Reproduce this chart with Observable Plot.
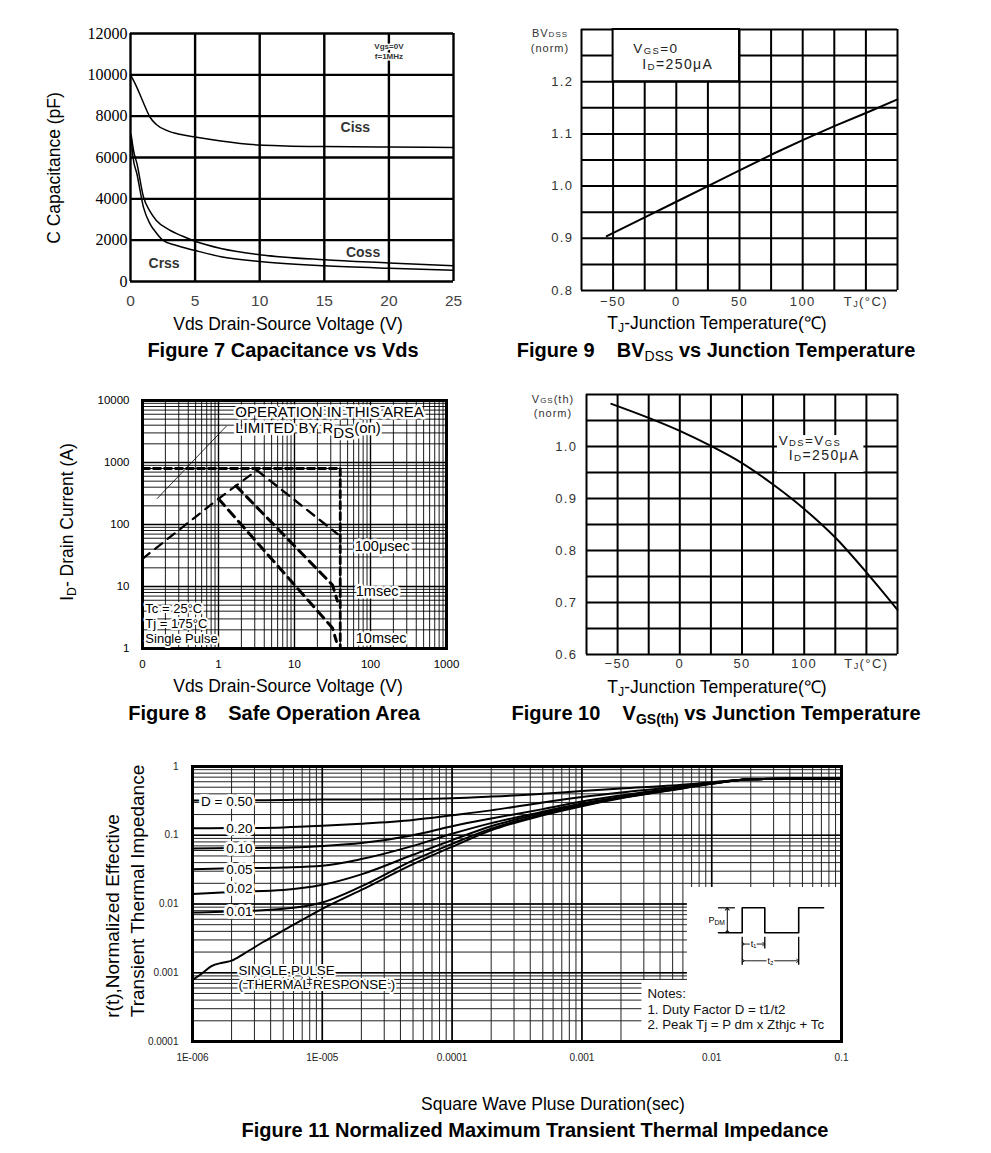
<!DOCTYPE html>
<html><head><meta charset="utf-8">
<script src="https://cdn.jsdelivr.net/npm/d3@7"></script>
<script src="https://cdn.jsdelivr.net/npm/@observablehq/plot@0.6"></script>
<style>
body{margin:0;background:#fff;}
#page{position:relative;width:991px;height:1153px;overflow:hidden;font-family:"Liberation Sans",Arial,sans-serif;color:#000;background:#fff;}
.abs{position:absolute;white-space:pre;line-height:1;}
.cap{font-weight:bold;font-size:20px;}
.ttl{font-size:17.5px;}
.ttl11{font-size:19px;}
.sm{font-size:11px;color:#333;letter-spacing:1px;}
sub{font-size:70%;vertical-align:-0.25em;line-height:0;}
#page svg{position:absolute;overflow:visible;}
</style></head><body><div id="page"></div>
<script>
// ---------- Figure 7: capacitance vs Vds ----------
const capVGrid = [0, 5, 10, 15, 20, 25];
const capCGrid = [0, 2000, 4000, 6000, 8000, 10000, 12000];
const cissV = [0, 0.3, 0.7, 1.0, 1.5, 2.0, 2.8, 4, 5, 7, 10, 12, 15, 20, 25];
const cissC = [10000, 9650, 9100, 8650, 7960, 7600, 7310, 7100, 6990, 6800, 6600, 6560, 6530, 6510, 6480];
const cossV = [0.05, 0.25, 0.5, 1, 1.5, 2, 3, 4, 5, 7, 10, 15, 20, 25];
const cossC = [7100, 6300, 5700, 4100, 3400, 2950, 2500, 2200, 1950, 1600, 1300, 1050, 900, 760];
const crssV = [0.05, 0.2, 0.5, 1, 1.5, 2, 2.5, 3.5, 5, 7, 10, 15, 20, 25];
const crssC = [7000, 6000, 5200, 3600, 2800, 2350, 2000, 1750, 1500, 1200, 970, 760, 640, 550];

// ---------- Figure 9 / 10: normalised vs junction temperature ----------
const tempGrid = [-75, -50, -25, 0, 25, 50, 75, 100, 125, 150, 175];
const tempTicks = [-50, 0, 50, 100, 150];
const bvGrid = [0.8, 0.85, 0.9, 0.95, 1.0, 1.05, 1.1, 1.15, 1.2, 1.25, 1.3];
const bvTicks = [0.8, 0.9, 1.0, 1.1, 1.2];
const bvTemp = [-55, -25, 0, 25, 50, 75, 100, 125, 150, 175];
const bvNorm = [0.904, 0.94, 0.97, 1.0, 1.03, 1.06, 1.088, 1.115, 1.14, 1.166];
const vthGrid = [0.6, 0.65, 0.7, 0.75, 0.8, 0.85, 0.9, 0.95, 1.0, 1.05, 1.1];
const vthTicks = [0.6, 0.7, 0.8, 0.9, 1.0];
const vthTemp = [-55, -25, 0, 25, 50, 75, 100, 125, 150, 175];
const vthNorm = [1.082, 1.055, 1.030, 1.001, 0.968, 0.927, 0.880, 0.825, 0.758, 0.686];

// ---------- Figure 8: safe operating area ----------
const soaXTicks = [0.1, 1, 10, 100, 1000];
const soaXLabels = ["0", "1", "10", "100", "1000"];
const soaYTicks = [1, 10, 100, 1000, 10000];
const soaYLabels = ["1", "10", "100", "1000", "10000"];
const soaDcV = [0.1, 40, 40];
const soaDcI = [800, 800, 1];
const soaRdsV = [0.1, 1, 3.2];
const soaRdsI = [28, 260, 750];
const soa100usV = [3.2, 37];
const soa100usI = [750, 70];
const soa1msV = [1.7, 31.6, 36.7];
const soa1msI = [420, 10.6, 5.8];
const soa10msV = [1.0, 31.6, 35.6];
const soa10msI = [260, 2.15, 1.3];

// ---------- Figure 11: transient thermal impedance ----------
const thXTicks = [1e-6, 1e-5, 1e-4, 1e-3, 1e-2, 1e-1];
const thXLabels = ["1E-006", "1E-005", "0.0001", "0.001", "0.01", "0.1"];
const thYTicks = [1e-4, 1e-3, 1e-2, 1e-1, 1];
const thYLabels = ["0.0001", "0.001", "0.01", "0.1", "1"];
const tPulse = [1e-6, 2e-6, 5e-6, 1e-5, 2e-5, 5e-5, 1e-4, 2e-4, 5e-4, 1e-3, 2e-3, 5e-3, 1e-2, 2e-2, 5e-2, 1e-1];
const zD50 = [0.32, 0.32, 0.325, 0.33, 0.33, 0.335, 0.345, 0.365, 0.40, 0.44, 0.48, 0.53, 0.59, 0.65, 0.67, 0.67];
const zD20 = [0.126, 0.127, 0.13, 0.137, 0.147, 0.167, 0.195, 0.23, 0.30, 0.36, 0.42, 0.50, 0.58, 0.65, 0.67, 0.67];
const zD10 = [0.064, 0.065, 0.066, 0.07, 0.077, 0.10, 0.135, 0.175, 0.24, 0.31, 0.38, 0.48, 0.57, 0.65, 0.67, 0.67];
const zD05 = [0.032, 0.033, 0.034, 0.036, 0.045, 0.07, 0.105, 0.15, 0.22, 0.29, 0.36, 0.47, 0.57, 0.65, 0.67, 0.67];
const zD02 = [0.014, 0.015, 0.016, 0.019, 0.027, 0.052, 0.085, 0.135, 0.21, 0.28, 0.355, 0.465, 0.565, 0.65, 0.67, 0.67];
const zD01 = [0.0075, 0.0078, 0.0085, 0.0105, 0.018, 0.043, 0.075, 0.125, 0.20, 0.27, 0.35, 0.46, 0.565, 0.65, 0.67, 0.67];
const tSingle = [1e-6, 1.2e-6, 1.4e-6, 1.7e-6, 2e-6, 2.5e-6, 3.5e-6, 5e-6, 1e-5, 2e-5, 5e-5, 1e-4, 2e-4, 5e-4, 1e-3, 2e-3, 5e-3, 1e-2, 2e-2, 5e-2, 1e-1];
const zSingle = [0.00078, 0.001, 0.00125, 0.0014, 0.0015, 0.0019, 0.0028, 0.0041, 0.0085, 0.016, 0.038, 0.068, 0.118, 0.195, 0.265, 0.345, 0.455, 0.56, 0.65, 0.67, 0.67];
const dutyLabels = ["D = 0.50", "0.20", "0.10", "0.05", "0.02", "0.01"];
const dutyLabelZ = [0.31, 0.125, 0.064, 0.032, 0.0168, 0.0078];
// inset waveform (schematic units)
const pulseT = [-1.05, 0, 0, 1, 1, 2.5, 2.5, 3.6];
const pulseP = [0, 0, 1, 1, 0, 0, 1, 1];

const logMult = [1, 2, 3, 4, 5, 6, 7, 8, 9];

// ---------- helpers ----------
const page = document.getElementById("page");
const rows = (xs, ys) => xs.map((x, i) => ({x, y: ys[i]}));
const logGrid = (decades, last) => decades.flatMap(d => logMult.map(m => m * d)).concat([last]);
function put(node, left, top) {
  node.style.left = left + "px"; node.style.top = top + "px";
  page.appendChild(node);
}
function html(content, cx, cy, cls, rotate) {
  const d = document.createElement("div");
  d.className = "abs " + cls; d.innerHTML = content;
  d.style.left = cx + "px"; d.style.top = cy + "px";
  d.style.transform = "translate(-50%,-50%)" + (rotate ? " rotate(-90deg)" : "");
  page.appendChild(d);
}
function frameOf(box, f) {
  return {width: box.w, height: box.h, marginLeft: f.L - box.x, marginRight: box.x + box.w - f.R,
          marginTop: f.T - box.y, marginBottom: box.y + box.h - f.B};
}
function applySubs(svg, scale, shift) {
  svg.querySelectorAll("text, tspan").forEach(el => {
    if (el.childElementCount) return;
    const s = el.textContent;
    if (!s.includes("_{")) return;
    el.textContent = "";
    const re = /_\{([^}]*)\}/g; let last = 0, m;
    const add = (txt, sub) => {
      if (!txt) return;
      const t = document.createElementNS("http://www.w3.org/2000/svg", "tspan");
      t.textContent = txt;
      if (sub) { t.setAttribute("font-size", (scale * 100) + "%"); t.setAttribute("baseline-shift", String(-shift)); }
      el.appendChild(t);
    };
    while ((m = re.exec(s))) { add(s.slice(last, m.index)); add(m[1], true); last = re.lastIndex; }
    add(s.slice(last));
  });
}
const halo = {stroke: "white", strokeWidth: 5, paintOrder: "stroke", fill: "black"};

// ---------- Figure 7 ----------
const p7 = Plot.plot({
  ...frameOf({x: 40, y: 15, w: 430, h: 300}, {L: 130, R: 453, T: 33, B: 281}),
  style: {fontFamily: "Liberation Sans", background: "transparent"},
  x: {domain: [0, 25], axis: null}, y: {domain: [0, 12000], axis: null},
  marks: [
    Plot.ruleX(capVGrid, {strokeWidth: 2.4}),
    Plot.ruleY(capCGrid, {strokeWidth: 2.4}),
    Plot.line(rows(cissV, cissC), {x: "x", y: "y", strokeWidth: 1.5, curve: "monotone-x"}),
    Plot.line(rows(cossV, cossC), {x: "x", y: "y", strokeWidth: 1.5, curve: "monotone-x"}),
    Plot.line(rows(crssV, crssC), {x: "x", y: "y", strokeWidth: 1.5, curve: "monotone-x"}),
    Plot.text(capCGrid, {x: 0, y: d => d, text: d => String(d), textAnchor: "end", dx: -3, fontFamily: "Liberation Serif", fontSize: 16}),
    Plot.axisX({ticks: capVGrid, tickSize: 0, tickPadding: 13, fontSize: 15.5, color: "#444", label: null}),
    Plot.text(["Ciss"], {x: 17.4, y: 7450, fontWeight: "bold", fontSize: 14, fill: "#333"}),
    Plot.text(["Coss"], {x: 18.0, y: 1380, fontWeight: "bold", fontSize: 14, fill: "#333"}),
    Plot.text(["Crss"], {x: 2.6, y: 870, fontWeight: "bold", fontSize: 14, fill: "#333"}),
    Plot.text(["Vgs=0V\nf=1MHz"], {x: 20, y: 11150, fontWeight: "bold", fontSize: 8, lineHeight: 1.15, fill: "#333", stroke: "white", strokeWidth: 3, paintOrder: "stroke"})
  ]
});
put(p7, 40, 15);
html("Vds Drain-Source Voltage (V)", 288, 325, "ttl");
html("C Capacitance (pF)", 55, 168, "ttl", true);
html("Figure 7 Capacitance vs Vds", 283, 350, "cap");

// ---------- Figure 9 ----------
const p9 = Plot.plot({
  ...frameOf({x: 500, y: 15, w: 420, h: 300}, {L: 581, R: 897, T: 29, B: 290}),
  style: {fontFamily: "Liberation Sans", background: "transparent", letterSpacing: "1.4px"},
  x: {domain: [-75, 175]}, y: {domain: [0.8, 1.3]},
  marks: [
    Plot.ruleX(tempGrid, {strokeWidth: 2}),
    Plot.ruleY(bvGrid, {strokeWidth: 2}),
    Plot.rect([0], {x1: -50, x2: 50, y1: 1.2, y2: 1.3, fill: "white", stroke: "black", strokeWidth: 2}),
    Plot.line(rows(bvTemp, bvNorm), {x: "x", y: "y", strokeWidth: 2}),
    Plot.text(["V_{GS}=0"], {x: -34, y: 1.264, textAnchor: "start", fontSize: 13.5, fill: "#222"}),
    Plot.text(["I_{D}=250μA"], {x: -27, y: 1.233, textAnchor: "start", fontSize: 14, fill: "#222"}),
    Plot.axisY({ticks: bvTicks, tickSize: 0, tickPadding: 8, fontSize: 13, color: "#333", label: null, tickFormat: d => d.toFixed(1)}),
    Plot.axisX({ticks: tempTicks, tickSize: 0, tickPadding: 6, fontSize: 13, color: "#333", label: null, tickFormat: d => d === 150 ? "T_{J}(°C)" : (d < 0 ? "\u2212" + (-d) : String(d))})
  ]
});
applySubs(p9, 0.7, 1);
put(p9, 500, 15);
html("BV<span style='font-size:8px'>DSS</span>", 550, 33, "sm");
html("(norm)", 550, 48, "sm");
html("T<sub>J</sub>-Junction Temperature(℃)", 717, 324, "ttl");
html("Figure 9    BV<sub style='font-weight:normal'>DSS</sub> vs Junction Temperature", 716, 350, "cap");

// ---------- Figure 8 ----------
const p8 = Plot.plot({
  ...frameOf({x: 40, y: 385, w: 430, h: 295}, {L: 142, R: 446, T: 400, B: 648}),
  style: {fontFamily: "Liberation Sans", background: "transparent"},
  x: {type: "log", domain: [0.1, 1000]}, y: {type: "log", domain: [1, 10000]},
  marks: [
    Plot.ruleX(logGrid([0.1, 1, 10, 100], 1000), {strokeWidth: 0.9}),
    Plot.ruleY(logGrid([1, 10, 100, 1000], 10000), {strokeWidth: 0.9}),
    Plot.ruleX(soaXTicks, {strokeWidth: 1.4}),
    Plot.ruleY(soaYTicks, {strokeWidth: 1.4}),
    Plot.line(rows(soaDcV, soaDcI), {x: "x", y: "y", strokeWidth: 2.8, strokeDasharray: "7,4"}),
    Plot.line(rows(soaRdsV, soaRdsI), {x: "x", y: "y", strokeWidth: 2.2, strokeDasharray: "9,7"}),
    Plot.line(rows(soa100usV, soa100usI), {x: "x", y: "y", strokeWidth: 2.4, strokeDasharray: "9,7"}),
    Plot.line(rows(soa1msV, soa1msI), {x: "x", y: "y", strokeWidth: 3, strokeDasharray: "9,6"}),
    Plot.line(rows(soa10msV, soa10msI), {x: "x", y: "y", strokeWidth: 3, strokeDasharray: "9,6"}),
    Plot.link([0], {x1: 0.155, y1: 260, x2: 1.28, y2: 3900, strokeWidth: 0.8}),
    Plot.frame({strokeWidth: 3}),
    Plot.text(["OPERATION IN THIS AREA"], {x: 1.66, y: 6400, textAnchor: "start", fontSize: 15, ...halo}),
    Plot.text(["LIMITED BY R_{DS}(on)"], {x: 1.66, y: 3540, textAnchor: "start", fontSize: 15, ...halo}),
    Plot.text(["100μsec"], {x: 62, y: 44, textAnchor: "start", fontSize: 14.5, ...halo}),
    Plot.text(["1msec"], {x: 64, y: 8.3, textAnchor: "start", fontSize: 14.5, ...halo}),
    Plot.text(["10msec"], {x: 64, y: 1.45, textAnchor: "start", fontSize: 14.5, ...halo}),
    Plot.text(["Tc = 25°C", "Tj = 175°C", "Single Pulse"], {x: 0.109, y: [4.3, 2.47, 1.43], textAnchor: "start", fontSize: 13, ...halo, strokeWidth: 4}),
    Plot.axisY({ticks: soaYTicks, tickSize: 0, tickPadding: 13, fontSize: 11.5, label: null, tickFormat: d => soaYLabels[soaYTicks.indexOf(d)]}),
    Plot.axisX({ticks: soaXTicks, tickSize: 0, tickPadding: 11, fontSize: 11.5, label: null, tickFormat: d => soaXLabels[soaXTicks.indexOf(d)]})
  ]
});
applySubs(p8, 1, 5);
put(p8, 40, 385);
html("Vds Drain-Source Voltage (V)", 288, 687, "ttl");
html("I<sub>D</sub>- Drain Current (A)", 68, 522, "ttl", true);
html("Figure 8    Safe Operation Area", 274, 713, "cap");

// ---------- Figure 10 ----------
const p10 = Plot.plot({
  ...frameOf({x: 500, y: 385, w: 420, h: 295}, {L: 586, R: 897, T: 394, B: 654}),
  style: {fontFamily: "Liberation Sans", background: "transparent", letterSpacing: "1.4px"},
  x: {domain: [-75, 175]}, y: {domain: [0.6, 1.1]},
  marks: [
    Plot.ruleX(tempGrid, {strokeWidth: 2}),
    Plot.ruleY(vthGrid, {strokeWidth: 2}),
    Plot.rect([0], {x1: 78.5, x2: 148, y1: 0.95, y2: 1.021, fill: "white"}),
    Plot.line(rows(vthTemp, vthNorm), {x: "x", y: "y", strokeWidth: 2, curve: "monotone-x"}),
    Plot.text(["V_{DS}=V_{GS}"], {x: 79.5, y: 1.0115, textAnchor: "start", fontSize: 13.5, fill: "#222"}),
    Plot.text(["I_{D}=250μA"], {x: 87.5, y: 0.983, textAnchor: "start", fontSize: 14, fill: "#222"}),
    Plot.axisY({ticks: vthTicks, tickSize: 0, tickPadding: 9, fontSize: 13, color: "#333", label: null, tickFormat: d => d.toFixed(1)}),
    Plot.axisX({ticks: tempTicks, tickSize: 0, tickPadding: 4, fontSize: 13, color: "#333", label: null, tickFormat: d => d === 150 ? "T_{J}(°C)" : (d < 0 ? "\u2212" + (-d) : String(d))})
  ]
});
applySubs(p10, 0.7, 1);
put(p10, 500, 385);
html("V<span style='font-size:8px'>GS</span>(th)", 553, 399, "sm");
html("(norm)", 553, 413, "sm");
html("T<sub>J</sub>-Junction Temperature(℃)", 717, 688, "ttl");
html("Figure 10    V<sub>GS(th)</sub> vs Junction Temperature", 716, 713, "cap");

// ---------- Figure 11 ----------
const thLine = {x: "x", y: "y", strokeWidth: 2, curve: "monotone-x"};
const p11 = Plot.plot({
  ...frameOf({x: 130, y: 755, w: 730, h: 320}, {L: 192, R: 841, T: 766, B: 1041}),
  style: {fontFamily: "Liberation Sans", background: "transparent"},
  x: {type: "log", domain: [1e-6, 0.1]}, y: {type: "log", domain: [1e-4, 1]},
  marks: [
    Plot.ruleX(logGrid([1e-6, 1e-5, 1e-4, 1e-3, 1e-2], 0.1), {strokeWidth: 1, stroke: "#222"}),
    Plot.ruleY(logGrid([1e-4, 1e-3, 1e-2, 1e-1], 1), {strokeWidth: 1, stroke: "#222"}),
    Plot.ruleX(thXTicks, {strokeWidth: 1.6}),
    Plot.ruleY(thYTicks, {strokeWidth: 1.6}),
    Plot.rect([0], {x1: 6.5e-3, x2: 0.1, y1: 1e-4, y2: 0.0174, fill: "white"}),
    Plot.rect([0], {x1: 2.9e-3, x2: 0.1, y1: 1e-4, y2: 7.7e-4, fill: "white"}),
    Plot.line(rows(tPulse, zD50), thLine),
    Plot.line(rows(tPulse, zD20), thLine),
    Plot.line(rows(tPulse, zD10), thLine),
    Plot.line(rows(tPulse, zD05), thLine),
    Plot.line(rows(tPulse, zD02), thLine),
    Plot.line(rows(tPulse, zD01), thLine),
    Plot.line(rows(tSingle, zSingle), thLine),
    Plot.frame({strokeWidth: 3}),
    Plot.text(dutyLabels, {x: 2.9e-6, y: dutyLabelZ, textAnchor: "end", fontSize: 13.5, ...halo, strokeWidth: 6}),
    Plot.text(["SINGLE PULSE", "( THERMAL RESPONSE )"], {x: 2.26e-6, y: [0.00108, 0.000675], textAnchor: "start", fontSize: 13.3, ...halo, strokeWidth: 4}),
    Plot.text(["Notes:", "1. Duty Factor D = t1/t2", "2. Peak Tj = P dm x Zthjc + Tc"], {x: 3.2e-3, y: [0.00049, 0.00029, 0.000178], textAnchor: "start", fontSize: 13.3, fill: "#111"}),
    Plot.axisY({ticks: thYTicks, tickSize: 0, tickPadding: 14, fontSize: 10, color: "#222", label: null, tickFormat: d => thYLabels[thYTicks.indexOf(d)]}),
    Plot.axisX({ticks: thXTicks, tickSize: 0, tickPadding: 12, fontSize: 10, color: "#222", label: null, tickFormat: d => thXLabels[thXTicks.indexOf(d)]})
  ]
});
put(p11, 130, 755);

// inset pulse diagram
const inset = Plot.plot({
  width: 140, height: 75, marginLeft: 0, marginRight: 0, marginTop: 0, marginBottom: 0,
  style: {fontFamily: "Liberation Sans", background: "transparent"},
  x: {domain: [0, 1], range: [41.7, 64.3], axis: null}, y: {domain: [0, 1], range: [37.3, 12.3], axis: null},
  marks: [
    Plot.line(rows(pulseT, pulseP), {x: "x", y: "y", strokeWidth: 1.6}),
    Plot.ruleY([1], {x1: -1.05, x2: -0.3, strokeWidth: 1.2}),
    Plot.link([0], {x1: -0.66, x2: -0.66, y1: 0.05, y2: 0.95, strokeWidth: 1, markerStart: "arrow", markerEnd: "arrow"}),
    Plot.ruleX([0, 2.5], {y1: -0.18, y2: -1.3, strokeWidth: 1.3}),
    Plot.ruleX([1], {y1: -0.18, y2: -0.65, strokeWidth: 1.3}),
    Plot.link([0], {x1: 0.05, x2: 0.95, y1: -0.45, y2: -0.45, strokeWidth: 0.9, markerStart: "arrow", markerEnd: "arrow"}),
    Plot.link([0], {x1: 0.05, x2: 2.45, y1: -1.12, y2: -1.12, strokeWidth: 0.9, markerStart: "arrow", markerEnd: "arrow"}),
    Plot.text(["t₁"], {x: 0.5, y: -0.45, fontSize: 9, ...halo, strokeWidth: 3}),
    Plot.text(["t₂"], {x: 1.25, y: -1.12, fontSize: 9, ...halo, strokeWidth: 3}),
    Plot.text(["P_{DM}"], {x: -1.13, y: 0.5, fontSize: 9})
  ]
});
applySubs(inset, 0.75, 2);
put(inset, 700, 895);

html("Transient Thermal Impedance", 137, 891, "ttl11", true);
html("r(t),Normalized Effective", 112, 916, "ttl11", true);
html("Square Wave Pluse Duration(sec)", 553, 1105, "ttl");
html("Figure 11 Normalized Maximum Transient Thermal Impedance", 535, 1130, "cap");
</script></body></html>
